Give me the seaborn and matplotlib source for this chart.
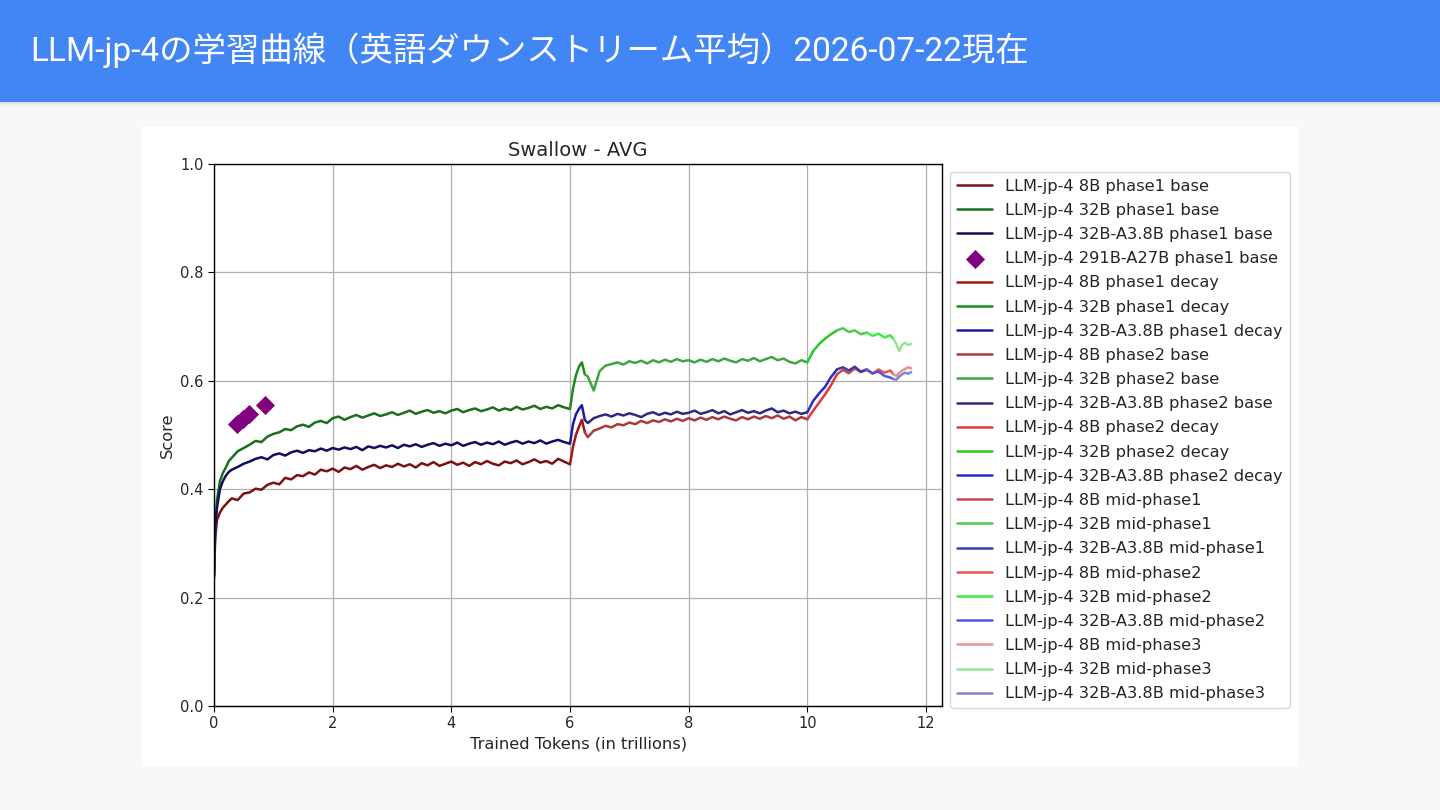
import numpy as np
import pandas as pd
import seaborn as sns
import matplotlib
matplotlib.use("Agg")
import matplotlib.pyplot as plt
from matplotlib.patches import Rectangle

# token checkpoints (trillions)
t_p1_base = [0.0, 0.02, 0.05, 0.1, 0.15, 0.2, 0.25] + list(np.round(np.arange(0.3, 6.001, 0.1), 2))
t_p1_decay = [6.0, 6.05, 6.1, 6.15, 6.2, 6.25]
t_p2_base = [6.25] + list(np.round(np.arange(6.3, 10.001, 0.1), 2))
t_p2_decay = [10.0, 10.1, 10.2, 10.3, 10.4, 10.5]
t_mid1 = [10.5, 10.6, 10.7, 10.8, 10.9, 11.0]
t_mid2 = [11.0, 11.1, 11.2, 11.3, 11.4, 11.45]
t_mid3 = [11.45, 11.5, 11.55, 11.6, 11.65, 11.7, 11.75]

# 8B scores
s8_p1_base = [0.235, 0.310, 0.343, 0.357, 0.366, 0.372, 0.378,
              0.383, 0.380, 0.392, 0.394, 0.401, 0.399, 0.408, 0.412, 0.409, 0.421,
              0.418, 0.426, 0.424, 0.431, 0.427, 0.436, 0.433, 0.438, 0.432, 0.440,
              0.437, 0.443, 0.436, 0.441, 0.445, 0.439, 0.444, 0.441, 0.447, 0.442,
              0.446, 0.440, 0.448, 0.444, 0.450, 0.443, 0.447, 0.451, 0.445, 0.449,
              0.443, 0.450, 0.446, 0.452, 0.447, 0.444, 0.451, 0.448, 0.453, 0.446,
              0.450, 0.455, 0.449, 0.452, 0.447, 0.456, 0.451, 0.446]
s8_p1_decay = [0.446, 0.478, 0.500, 0.515, 0.528, 0.505]
s8_p2_base = [0.505, 0.496, 0.508, 0.512, 0.517, 0.514, 0.520, 0.518, 0.523, 0.520,
              0.526, 0.522, 0.527, 0.524, 0.529, 0.525, 0.530, 0.526, 0.531, 0.527,
              0.532, 0.528, 0.533, 0.529, 0.534, 0.530, 0.527, 0.533, 0.529, 0.534,
              0.530, 0.535, 0.531, 0.536, 0.530, 0.534, 0.527, 0.533, 0.529]
s8_p2_decay = [0.529, 0.545, 0.560, 0.575, 0.592, 0.612]
s8_mid1 = [0.612, 0.620, 0.614, 0.623, 0.616, 0.620]
s8_mid2 = [0.620, 0.613, 0.621, 0.615, 0.619, 0.612]
s8_mid3 = [0.612, 0.609, 0.615, 0.619, 0.622, 0.625, 0.623]

# 32B scores
s32_p1_base = [0.240, 0.330, 0.380, 0.415, 0.430, 0.440, 0.452,
               0.458, 0.470, 0.476, 0.482, 0.489, 0.487, 0.497, 0.502, 0.505, 0.511,
               0.509, 0.516, 0.519, 0.515, 0.523, 0.526, 0.522, 0.531, 0.534, 0.528,
               0.533, 0.537, 0.532, 0.536, 0.540, 0.535, 0.538, 0.542, 0.537, 0.541,
               0.545, 0.539, 0.543, 0.546, 0.541, 0.544, 0.540, 0.545, 0.548, 0.542,
               0.546, 0.549, 0.544, 0.547, 0.551, 0.545, 0.549, 0.546, 0.552, 0.547,
               0.550, 0.554, 0.548, 0.552, 0.549, 0.555, 0.551, 0.548]
s32_p1_decay = [0.548, 0.585, 0.610, 0.626, 0.634, 0.612]
s32_p2_base = [0.612, 0.608, 0.582, 0.618, 0.628, 0.631, 0.634, 0.630, 0.636, 0.633,
               0.637, 0.632, 0.638, 0.634, 0.639, 0.635, 0.640, 0.636, 0.638, 0.634,
               0.639, 0.635, 0.640, 0.636, 0.641, 0.637, 0.634, 0.640, 0.637, 0.642,
               0.636, 0.640, 0.644, 0.638, 0.641, 0.635, 0.632, 0.638, 0.634]
s32_p2_decay = [0.634, 0.655, 0.668, 0.678, 0.686, 0.693]
s32_mid1 = [0.693, 0.697, 0.690, 0.693, 0.686, 0.689]
s32_mid2 = [0.689, 0.683, 0.687, 0.680, 0.684, 0.677]
s32_mid3 = [0.677, 0.668, 0.655, 0.667, 0.670, 0.666, 0.668]

# 32B-A3.8B scores
sa_p1_base = [0.240, 0.330, 0.365, 0.400, 0.415, 0.425, 0.432,
              0.436, 0.441, 0.447, 0.451, 0.456, 0.459, 0.455, 0.463, 0.466, 0.462,
              0.468, 0.471, 0.467, 0.472, 0.470, 0.475, 0.471, 0.476, 0.473, 0.477,
              0.474, 0.478, 0.472, 0.479, 0.476, 0.480, 0.477, 0.481, 0.476, 0.482,
              0.479, 0.483, 0.478, 0.482, 0.485, 0.480, 0.484, 0.481, 0.486, 0.480,
              0.484, 0.487, 0.482, 0.486, 0.483, 0.488, 0.482, 0.486, 0.489, 0.484,
              0.488, 0.485, 0.490, 0.484, 0.488, 0.491, 0.487, 0.484]
sa_p1_decay = [0.484, 0.520, 0.538, 0.548, 0.555, 0.528]
sa_p2_base = [0.528, 0.522, 0.531, 0.535, 0.538, 0.534, 0.539, 0.536, 0.540, 0.537,
              0.533, 0.539, 0.542, 0.537, 0.541, 0.538, 0.543, 0.539, 0.541, 0.545,
              0.539, 0.542, 0.546, 0.540, 0.544, 0.538, 0.542, 0.546, 0.541, 0.544,
              0.540, 0.545, 0.549, 0.542, 0.545, 0.540, 0.543, 0.539, 0.542]
sa_p2_decay = [0.542, 0.563, 0.577, 0.589, 0.607, 0.621]
sa_mid1 = [0.621, 0.625, 0.619, 0.626, 0.617, 0.621]
sa_mid2 = [0.621, 0.614, 0.617, 0.609, 0.606, 0.603]
sa_mid3 = [0.603, 0.602, 0.608, 0.612, 0.615, 0.613, 0.616]

# 291B-A27B points
t_291 = [0.39, 0.49, 0.59, 0.86]
s_291 = [0.520, 0.529, 0.538, 0.556]

series = [
    ("LLM-jp-4 8B phase1 base", t_p1_base, s8_p1_base, "#7a1212"),
    ("LLM-jp-4 32B phase1 base", t_p1_base, s32_p1_base, "#1c6e1c"),
    ("LLM-jp-4 32B-A3.8B phase1 base", t_p1_base, sa_p1_base, "#10105a"),
    ("LLM-jp-4 291B-A27B phase1 base", None, None, "#800080"),
    ("LLM-jp-4 8B phase1 decay", t_p1_decay, s8_p1_decay, "#a31616"),
    ("LLM-jp-4 32B phase1 decay", t_p1_decay, s32_p1_decay, "#1c8c1c"),
    ("LLM-jp-4 32B-A3.8B phase1 decay", t_p1_decay, sa_p1_decay, "#1a1aa3"),
    ("LLM-jp-4 8B phase2 base", t_p2_base, s8_p2_base, "#a83a3a"),
    ("LLM-jp-4 32B phase2 base", t_p2_base, s32_p2_base, "#3ea63e"),
    ("LLM-jp-4 32B-A3.8B phase2 base", t_p2_base, sa_p2_base, "#2a2a84"),
    ("LLM-jp-4 8B phase2 decay", t_p2_decay, s8_p2_decay, "#e03838"),
    ("LLM-jp-4 32B phase2 decay", t_p2_decay, s32_p2_decay, "#28c828"),
    ("LLM-jp-4 32B-A3.8B phase2 decay", t_p2_decay, sa_p2_decay, "#2a2acc"),
    ("LLM-jp-4 8B mid-phase1", t_mid1, s8_mid1, "#c84848"),
    ("LLM-jp-4 32B mid-phase1", t_mid1, s32_mid1, "#50c850"),
    ("LLM-jp-4 32B-A3.8B mid-phase1", t_mid1, sa_mid1, "#3a3aaa"),
    ("LLM-jp-4 8B mid-phase2", t_mid2, s8_mid2, "#ea5252"),
    ("LLM-jp-4 32B mid-phase2", t_mid2, s32_mid2, "#42ea42"),
    ("LLM-jp-4 32B-A3.8B mid-phase2", t_mid2, sa_mid2, "#5252e2"),
    ("LLM-jp-4 8B mid-phase3", t_mid3, s8_mid3, "#e39494"),
    ("LLM-jp-4 32B mid-phase3", t_mid3, s32_mid3, "#94e394"),
    ("LLM-jp-4 32B-A3.8B mid-phase3", t_mid3, sa_mid3, "#8484cc"),
]

sns.set_style("ticks")
plt.rcParams["font.family"] = ["DejaVu Sans"]

fig = plt.figure(figsize=(14.4, 8.1), dpi=100)
fig.patch.set_facecolor("#f8f8f8")

# slide header + shadow (behind the axes)
for i, a in enumerate([0.10, 0.07, 0.045, 0.025, 0.012]):
    fig.add_artist(Rectangle((0, 1 - (103 + i) / 810), 1, 1 / 810,
                             transform=fig.transFigure, color="black", alpha=a, lw=0, zorder=-5))
fig.add_artist(Rectangle((0, 1 - 102 / 810), 1, 102 / 810,
                         transform=fig.transFigure, color="#4285f4", lw=0, zorder=-5))
fig.text(30 / 1440, 1 - 50 / 810,
         "LLM-jp-4の学習曲線（英語ダウンストリーム平均）2026-07-22現在",
         color="white", fontsize=24, va="center", ha="left",
         family=["Roboto", "Noto Sans CJK JP"])

# white image panel
fig.add_artist(Rectangle((142 / 1440, 1 - 766 / 810), (1298 - 142) / 1440, (766 - 127) / 810,
                         transform=fig.transFigure, color="white", lw=0, zorder=-5))

ax = fig.add_axes([214 / 1440, 1 - 706 / 810, (942 - 214) / 1440, (706 - 164) / 810])
ax.set_facecolor("white")

for label, tx, sc, col in series:
    if tx is None:
        sns.scatterplot(x=t_291, y=s_291, ax=ax, marker="D", s=95, color=col,
                        edgecolor=col, linewidth=0, label=label, zorder=3)
    else:
        df = pd.DataFrame({"tokens": tx, "score": sc})
        sns.lineplot(data=df, x="tokens", y="score", ax=ax, color=col, lw=1.8,
                     label=label, estimator=None, sort=False)

ax.set_xlim(0, 12.27)
ax.set_ylim(0, 1.0)
ax.set_xticks([0, 2, 4, 6, 8, 10, 12])
ax.set_yticks([0.0, 0.2, 0.4, 0.6, 0.8, 1.0])
ax.grid(True, color="#b0b0b0", lw=0.9)
for sp in ax.spines.values():
    sp.set_color("black")
    sp.set_linewidth(1.0)
ax.tick_params(labelsize=10.5, length=4, color="black")
ax.set_xlabel("Trained Tokens (in trillions)", fontsize=11.7)
ax.set_ylabel("Score", fontsize=11.7)
ax.set_title("Swallow - AVG", fontsize=14)

ax.legend(loc="upper left", bbox_to_anchor=(1.0, 1.0), fontsize=11.7, frameon=True,
          handlelength=2.2, borderpad=0.4, labelspacing=0.565)

fig.savefig("out.png", dpi=100, facecolor=fig.get_facecolor())
